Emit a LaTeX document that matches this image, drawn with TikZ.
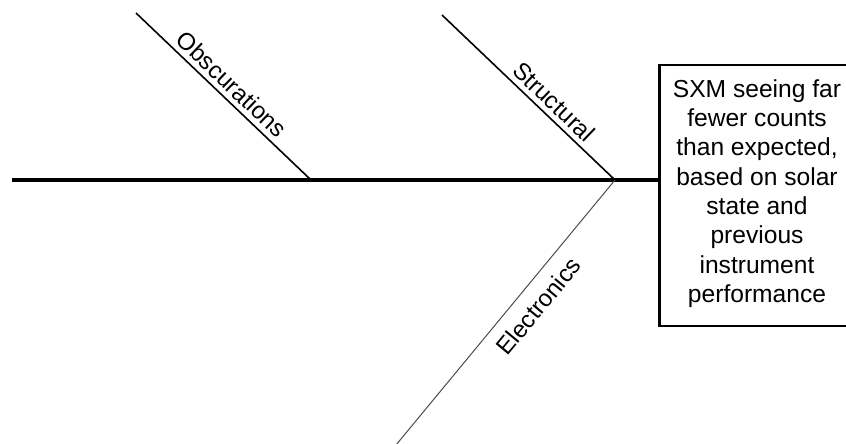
\documentclass[tikz,border=0pt]{standalone}
\usepackage{fontspec}
\setmainfont{Liberation Sans}
\usetikzlibrary{positioning}
\tikzset{spine/.style={draw,line width=4pt,-},
    bone/.style={draw,line width=1.6pt,-},
    thin bone/.style={draw,line width=1pt,-,black!70},
    cause/.style={font=\fontsize{24}{29}\selectfont,sloped,inner sep=5pt,text=black},
    effect box/.style={draw,line width=2.5pt,minimum width=220pt,minimum height=261pt,
        inner sep=0pt},
    effect text/.style={align=center,inner sep=0pt,font=\fontsize{24.6}{29.3}\selectfont}}

\begin{document}
\begin{tikzpicture}[x=1pt,y=-1pt]
    \useasboundingbox (0,0) rectangle (846,444);
    \clip (0,0) rectangle (846,444);

    % Effect (head of the fish), right side runs off the page
    \node[effect box,anchor=west] (effect) at (658,195.5) {};
    \node[effect text] (effecttext) at ([xshift=99pt,yshift=2pt]effect.west)
        {SXM seeing far\\fewer counts\\than expected,\\based on solar\\state and\\previous\\instrument\\performance};

    % Spine
    \coordinate (tail) at (12,180);
    \coordinate (head) at (615,180);
    \coordinate (obsfoot) at (311,180);
    \draw[spine] (tail) -- (tail -| effect.west);

    % Cause bones
    \coordinate (obstop) at (136,13);
    \coordinate (structop) at (442,15);
    \coordinate (elecend) at (396,445);
    \draw[bone] (obstop) -- node[cause,above,pos=0.49] {Obscurations} (obsfoot);
    \draw[bone] (structop) -- node[cause,above,pos=0.59] {Structural} (head);
    \draw[thin bone] (elecend) -- node[cause,below,pos=0.575,inner sep=12pt] {Electronics} (head);
\end{tikzpicture}
\end{document}
